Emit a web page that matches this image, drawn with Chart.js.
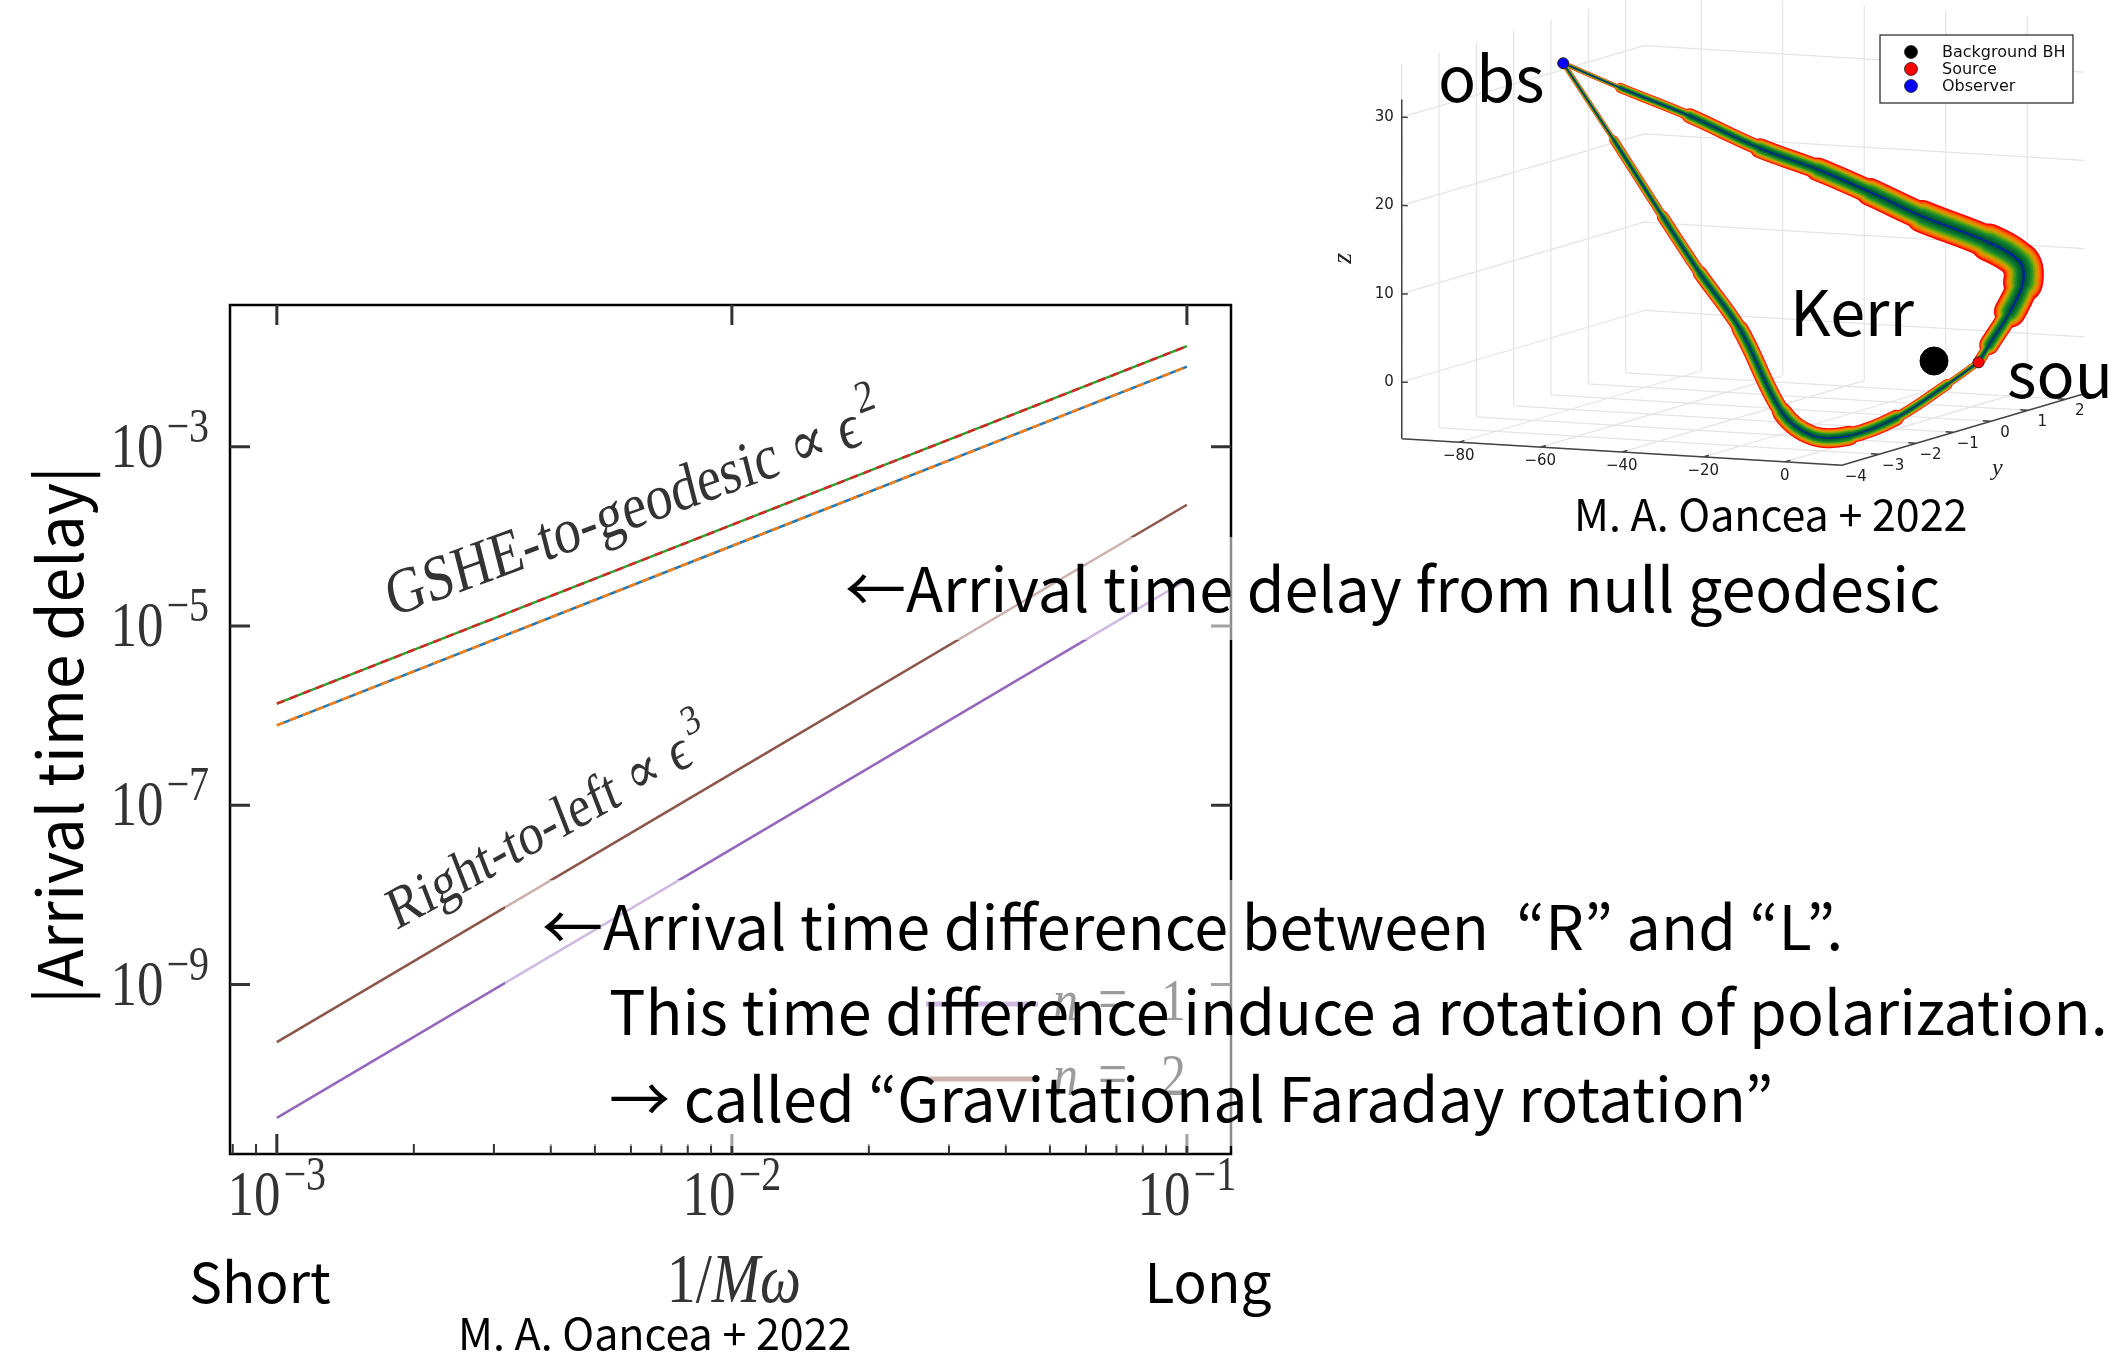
<!DOCTYPE html>
<html>
<head>
<meta charset="utf-8">
<script src="https://cdn.jsdelivr.net/npm/chart.js@4.4.0/dist/chart.umd.min.js"></script>
<style>
  html, body { margin: 0; padding: 0; background: #fff; width: 2112px; height: 1357px; overflow: hidden; position: relative; }
  canvas { position: absolute; }
  #delay { left: 0; top: 0; }
  #rays { left: 1300px; top: 0; }
  svg { position: absolute; left: 0; top: 0; }
  svg text { font-family: "Noto Sans CJK JP", "Noto Sans", sans-serif; fill: #000; }
</style>
</head>
<body>
<canvas id="delay" width="2112" height="1357"></canvas>
<canvas id="rays" width="812" height="560"></canvas>
<svg width="2112" height="1357" xmlns="http://www.w3.org/2000/svg">
  <rect x="835" y="537" width="1277" height="103" fill="#fff" fill-opacity="0.55"/>
  <rect x="505" y="880" width="1607" height="266" fill="#fff" fill-opacity="0.55"/>
  <text x="845" y="612" font-size="61">←Arrival time delay from null geodesic</text>
  <text x="542" y="950" font-size="61">←Arrival time difference between&#160; “R” and “L”.</text>
  <text x="609" y="1035" font-size="61">This time difference induce a rotation of polarization.</text>
  <text x="609" y="1122" font-size="61">→ called “Gravitational Faraday rotation”</text>
  <text transform="translate(83,735) rotate(-90)" text-anchor="middle" font-size="62">|Arrival time delay|</text>
  <text x="260" y="1303" text-anchor="middle" font-size="55">Short</text>
  <text x="1208" y="1303" text-anchor="middle" font-size="55">Long</text>
  <text x="458" y="1350" font-size="43">M. A. Oancea + 2022</text>
  <text x="1574" y="531" font-size="43">M. A. Oancea + 2022</text>
  <text x="1438" y="102" font-size="63">obs</text>
  <text x="1790" y="336" font-size="63">Kerr</text>
  <text x="2007" y="398" font-size="63">source</text>
</svg>
<script>
// ---- arrival time delay vs 1/Mω (log-log) ----
const invMw = [1e-3, 1e-2, 1e-1];
const gsheBlue = [7.8e-7, 7.8e-5, 7.8e-3];
const gsheOrange = [7.8e-7, 7.8e-5, 7.8e-3];
const gsheGreen = [1.36e-6, 1.34e-4, 1.32e-2];
const gsheRed = [1.36e-6, 1.34e-4, 1.32e-2];
const rightLeftN1 = [3.26e-11, 3.26e-8, 3.26e-5];
const rightLeftN2 = [2.28e-10, 2.27e-7, 2.25e-4];

const xTicks = [1e-3, 1e-2, 1e-1];
const xTickExp = ['−3', '−2', '−1'];
const yTicks = [1e-3, 1e-5, 1e-7, 1e-9];
const yTickExp = ['−3', '−5', '−7', '−9'];
const legendLabels = ['1', '2'];

// ---- ray bundle around Kerr (3D: x, y, z) ----
const observerPos = [-91, 0, 31.2];
const sourcePos = [10, 0.1, 0];
const blackHolePos = [0, 0, 0];
const upperRay = [
  [-91, 0, 31.2], [-77, 0, 28.8], [-60, 0, 26.1], [-42.7, 0, 22.9], [-28.5, 0, 20.9],
  [-15.7, 0, 18.7], [-2.9, 0, 16.3], [4.3, 1.0, 12.3], [2.8, 2.0, 8.8], [1.7, 2.2, 6.2],
  [4.0, 1.6, 3.7], [6.2, 0.8, 1.0], [10, 0.1, 0]
];
const lowerRay = [
  [-91, 0, 31.2], [-74, -0.5, 23.6], [-57.4, -1, 16.0], [-43.7, -1.5, 10.6], [-29.3, -2, 5.3],
  [-14.4, -2.5, -3.1], [-2.2, -3, -4.8], [2.0, -2.5, -5.3], [9.0, -2, -3.7], [12.3, -1, -1.1],
  [10, 0.1, 0]
];
const xTicks3 = [-80, -60, -40, -20, 0];
const yTicks3 = [-4, -3, -2, -1, 0, 1, 2];
const zTicks3 = [0, 10, 20, 30];

const STRETCH = 1.2;
const SERIF = '"Liberation Serif", "DejaVu Serif", serif';

// lower order is drawn on top
function series(values, color, dash, order) {
  return {
    data: invMw.map((x, i) => ({ x, y: values[i] })),
    borderColor: color,
    borderDash: dash,
    borderWidth: 2.5,
    showLine: true,
    pointRadius: 0,
    fill: false,
    order: order
  };
}

function stretchedText(ctx, x, y, text, font, rot) {
  ctx.save();
  ctx.translate(x, y);
  ctx.scale(1, STRETCH);
  if (rot) ctx.rotate(rot * Math.PI / 180);
  ctx.font = font;
  ctx.textAlign = 'left';
  ctx.textBaseline = 'alphabetic';
  ctx.fillText(text, 0, 0);
  ctx.restore();
}

function powerLabel(ctx, anchor, base, exp, align) {
  const f10 = '53px ' + SERIF, fexp = '40px ' + SERIF;
  ctx.font = f10;
  const w10 = ctx.measureText('10').width;
  ctx.font = fexp;
  const we = ctx.measureText(exp).width;
  const total = w10 + 3 + we;
  const left = align === 'center' ? anchor - total / 2 : anchor - total;
  stretchedText(ctx, left, base, '10', f10);
  stretchedText(ctx, left + w10 + 3, base - 25, exp, fexp);
}

const notes = [
  { text: 'GSHE-to-geodesic ∝ ϵ', sup: '2', size: 54, x: 1.79e-3, y: 1.25e-5, rot: -17 },
  { text: 'Right-to-left ∝ ϵ', sup: '3', size: 50, x: 1.83e-3, y: 4.0e-9, rot: -25 }
];

const framePlugin = {
  id: 'frame',
  afterDatasetsDraw(chart) {
    const { ctx, chartArea: a, scales: { x, y } } = chart;
    ctx.save();
    ctx.strokeStyle = '#000';
    ctx.lineWidth = 2.5;
    ctx.strokeRect(a.left, a.top, a.right - a.left, a.bottom - a.top);

    ctx.strokeStyle = '#333';
    ctx.lineWidth = 3;
    ctx.beginPath();
    xTicks.forEach(v => {
      const px = x.getPixelForValue(v);
      ctx.moveTo(px, a.bottom); ctx.lineTo(px, a.bottom - 20);
      ctx.moveTo(px, a.top); ctx.lineTo(px, a.top + 20);
    });
    yTicks.forEach(v => {
      const py = y.getPixelForValue(v);
      ctx.moveTo(a.left, py); ctx.lineTo(a.left + 20, py);
      ctx.moveTo(a.right, py); ctx.lineTo(a.right - 20, py);
    });
    ctx.stroke();

    ctx.lineWidth = 2;
    ctx.beginPath();
    for (let e = -4; e <= -1; e++) {
      for (let m = 2; m <= 9; m++) {
        const v = m * Math.pow(10, e);
        if (v < x.min || v > x.max) continue;
        const px = x.getPixelForValue(v);
        ctx.moveTo(px, a.bottom); ctx.lineTo(px, a.bottom - 10);
      }
    }
    ctx.stroke();

    ctx.fillStyle = '#333';
    xTicks.forEach((v, i) => powerLabel(ctx, x.getPixelForValue(v), a.bottom + 61, xTickExp[i], 'center'));
    yTicks.forEach((v, i) => powerLabel(ctx, a.left - 21, y.getPixelForValue(v) + 20, yTickExp[i], 'right'));

    // axis label 1/Mω
    const fUp = '58px ' + SERIF, fIt = 'italic 58px ' + SERIF;
    ctx.font = fUp;
    const w1 = ctx.measureText('1/').width;
    ctx.font = fIt;
    const w2 = ctx.measureText('Mω').width;
    const lx = x.getPixelForValue(1e-2) + 2 - (w1 + w2) / 2;
    stretchedText(ctx, lx, a.bottom + 148, '1/', fUp);
    stretchedText(ctx, lx + w1, a.bottom + 148, 'Mω', fIt);

    // slanted annotations
    notes.forEach(n => {
      const px = x.getPixelForValue(n.x), py = y.getPixelForValue(n.y);
      ctx.save();
      ctx.translate(px, py);
      ctx.scale(1, STRETCH);
      ctx.rotate(n.rot * Math.PI / 180);
      ctx.font = n.size + 'px ' + SERIF;
      ctx.fillText(n.text, 0, 0);
      const w = ctx.measureText(n.text).width;
      ctx.font = Math.round(n.size * 0.7) + 'px ' + SERIF;
      ctx.fillText(n.sup, w + 3, -n.size * 0.47);
      ctx.restore();
    });

    // legend (n = 1, n = 2)
    const legendSets = [chart.data.datasets[4], chart.data.datasets[5]];
    legendSets.forEach((ds, i) => {
      const ly = a.bottom - 150 + i * 75;
      ctx.strokeStyle = ds.borderColor;
      ctx.lineWidth = 5;
      ctx.beginPath();
      ctx.moveTo(a.right - 305, ly); ctx.lineTo(a.right - 193, ly);
      ctx.stroke();
      ctx.fillStyle = '#222';
      stretchedText(ctx, a.right - 178, ly + 16, 'n', 'italic 50px ' + SERIF);
      stretchedText(ctx, a.right - 133, ly + 16, '=', '52px ' + SERIF);
      stretchedText(ctx, a.right - 70, ly + 16, legendLabels[i], '50px ' + SERIF);
    });
    ctx.restore();
  }
};

new Chart(document.getElementById('delay'), {
  type: 'scatter',
  data: {
    datasets: [
      series(gsheBlue, '#1f77b4', [], 2),
      series(gsheOrange, '#ff7f0e', [8, 6], 1),
      series(gsheGreen, '#2ca02c', [], 2),
      series(gsheRed, '#d62728', [8, 6], 1),
      series(rightLeftN1, '#9467bd', [], 2),
      series(rightLeftN2, '#8c564b', [], 2)
    ]
  },
  options: {
    responsive: false,
    animation: false,
    layout: { padding: { left: 230, top: 305, right: 881, bottom: 203 } },
    scales: {
      x: { type: 'logarithmic', display: false, min: 7.89e-4, max: 0.125, bounds: 'data' },
      y: { type: 'logarithmic', display: false, min: 1.29e-11, max: 3.8e-2, bounds: 'data' }
    },
    plugins: { legend: { display: false }, tooltip: { enabled: false } }
  },
  plugins: [framePlugin]
});

// ---- 3D panel: orthographic projection into screen-like units ----
function proj(p) {
  return { x: p[0] * 4.075 + p[1] * 37.3, y: p[0] * 0.245 - p[1] * 11.0 - p[2] * 8.83 };
}
const box3 = { x: [-94, 14], y: [-4, 2.5], z: [-6.44, 36] };
const bandColors = ['#ff0000', '#ff5000', '#f08000', '#c8a000', '#80a800', '#3c9a20', '#18862c', '#0a7030', '#005a30', '#0020a0'];
const bandFrac = [1, 0.9, 0.8, 0.7, 0.6, 0.5, 0.4, 0.3, 0.18, 0.06];
const upperTaper = [0.12, 0.25, 0.38, 0.5, 0.6, 0.7, 0.82, 0.95, 1, 0.8, 0.5, 0.28];
const lowerTaper = [0.25, 0.45, 0.6, 0.72, 0.85, 1, 1, 0.8, 0.55, 0.35];

function band(path, base, taper) {
  return bandColors.map((c, k) => ({
    data: path.map(proj),
    showLine: true,
    pointRadius: 0,
    borderColor: c,
    borderCapStyle: 'round',
    borderJoinStyle: 'round',
    tension: 0.35,
    order: 50 - k,
    segment: { borderWidth: ctx => Math.max(1, base * bandFrac[k] * taper[ctx.p0DataIndex]) }
  }));
}

const grid3Plugin = {
  id: 'grid3',
  beforeDatasetsDraw(chart) {
    const { ctx, scales: { x, y } } = chart;
    const P = p => { const q = proj(p); return [x.getPixelForValue(q.x), y.getPixelForValue(q.y)]; };
    const seg = (p, q) => { const a = P(p), b = P(q); ctx.moveTo(a[0], a[1]); ctx.lineTo(b[0], b[1]); };
    const [x0, x1] = box3.x, [y0, y1] = box3.y, [z0, z1] = box3.z;
    ctx.save();
    ctx.strokeStyle = '#e4e4e4';
    ctx.lineWidth = 1.2;
    ctx.beginPath();
    zTicks3.forEach(z => { seg([x0, y0, z], [x0, y1, z]); seg([x0, y1, z], [x1, y1, z]); });
    xTicks3.forEach(v => { seg([v, y0, z0], [v, y1, z0]); seg([v, y1, z0], [v, y1, z1]); });
    yTicks3.forEach(v => { seg([x0, v, z0], [x1, v, z0]); seg([x0, v, z0], [x0, v, z1]); });
    ctx.stroke();

    ctx.strokeStyle = '#444';
    ctx.lineWidth = 1.5;
    ctx.beginPath();
    seg([x0, y0, z0], [x0, y0, 32]);
    seg([x0, y0, z0], [x1, y0, z0]);
    seg([x1, y0, z0], [x1, y1, z0]);
    zTicks3.forEach(z => seg([x0, y0, z], [x0 + 1.5, y0, z]));
    xTicks3.forEach(v => seg([v, y0, z0], [v, y0 + 0.15, z0]));
    yTicks3.forEach(v => seg([x1, v, z0], [x1 - 2, v, z0]));
    ctx.stroke();

    ctx.fillStyle = '#222';
    ctx.font = '15px "DejaVu Sans", sans-serif';
    ctx.textBaseline = 'middle';
    ctx.textAlign = 'right';
    zTicks3.forEach(z => { const a = P([x0, y0, z]); ctx.fillText(String(z), a[0] - 8, a[1]); });
    ctx.textAlign = 'center';
    xTicks3.forEach(v => { const a = P([v, y0, z0]); ctx.fillText(String(v).replace('-', '−'), a[0], a[1] + 14); });
    yTicks3.forEach(v => { const a = P([x1, v, z0]); ctx.fillText(String(v).replace('-', '−'), a[0] + 14, a[1] + 12); });

    ctx.font = 'italic 28px ' + SERIF;
    const zl = P([x0, y0, 14]);
    ctx.save();
    ctx.translate(zl[0] - 58, zl[1]);
    ctx.rotate(-Math.PI / 2);
    ctx.fillText('z', 0, 0);
    ctx.restore();
    ctx.font = 'italic 24px ' + SERIF;
    const yl = P([x1, -0.5, z0]);
    ctx.fillText('y', yl[0] + 25, yl[1] + 42);
    ctx.restore();
  },
  afterDatasetsDraw(chart) {
    const { ctx } = chart;
    ctx.save();
    ctx.fillStyle = '#fff';
    ctx.strokeStyle = '#222';
    ctx.lineWidth = 1.2;
    ctx.fillRect(580, 35, 193, 68);
    ctx.strokeRect(580, 35, 193, 68);
    const items = [['Background BH', '#000'], ['Source', '#ff0000'], ['Observer', '#0000ff']];
    ctx.font = '16px "DejaVu Sans", sans-serif';
    ctx.textBaseline = 'middle';
    ctx.textAlign = 'left';
    items.forEach((it, i) => {
      const yy = 52 + i * 17;
      ctx.beginPath();
      ctx.arc(611, yy, 6.5, 0, Math.PI * 2);
      ctx.fillStyle = it[1];
      ctx.fill();
      ctx.lineWidth = 0.8;
      ctx.stroke();
      ctx.fillStyle = '#111';
      ctx.fillText(it[0], 642, yy + 1);
    });
    ctx.restore();
  }
};

new Chart(document.getElementById('rays'), {
  type: 'scatter',
  data: {
    datasets: [
      ...band(upperRay, 40, upperTaper),
      ...band(lowerRay, 20, lowerTaper),
      { data: [proj(blackHolePos)], pointRadius: 14, backgroundColor: '#000', borderColor: '#000', order: 0 },
      { data: [proj(sourcePos)], pointRadius: 5.5, backgroundColor: '#ff0000', borderColor: '#222', borderWidth: 1, order: 0 },
      { data: [proj(observerPos)], pointRadius: 5.5, backgroundColor: '#0000ff', borderColor: '#222', borderWidth: 1, order: 0 }
    ]
  },
  options: {
    responsive: false,
    animation: false,
    layout: { padding: 0, autoPadding: false },
    scales: {
      x: { type: 'linear', display: false, min: -634, max: 178, bounds: 'data' },
      y: { type: 'linear', display: false, reverse: true, min: -361, max: 199, bounds: 'data' }
    },
    plugins: { legend: { display: false }, tooltip: { enabled: false } }
  },
  plugins: [grid3Plugin]
});
</script>
</body>
</html>
